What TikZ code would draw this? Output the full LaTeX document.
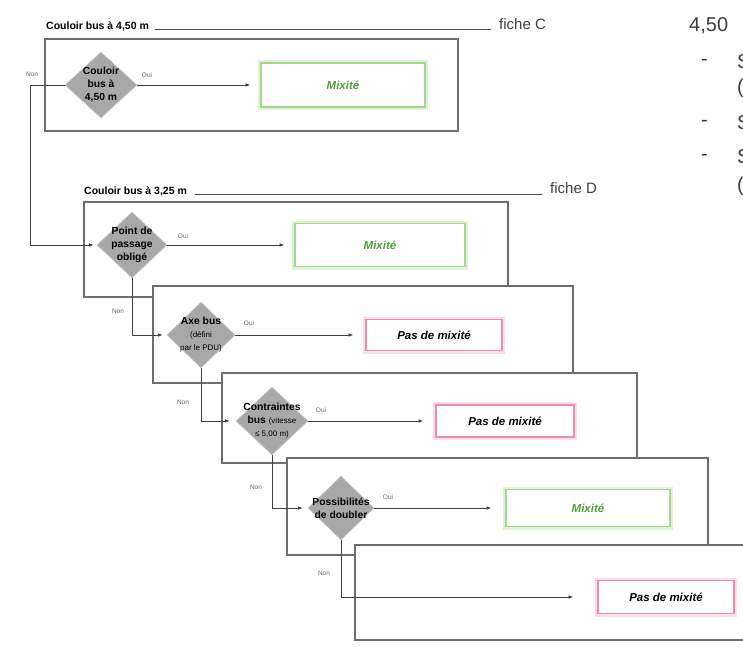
\documentclass[tikz,border=0pt]{standalone}
\usepackage{fontspec}
\setmainfont{Liberation Sans}
\usetikzlibrary{shapes.geometric,arrows.meta}
\definecolor{panelgray}{RGB}{110,110,110}
\definecolor{diagray}{RGB}{168,168,168}
\definecolor{mixline}{RGB}{165,215,145}
\definecolor{mixglow}{RGB}{222,242,212}
\definecolor{mixtext}{RGB}{80,160,60}
\definecolor{redline}{RGB}{240,140,165}
\definecolor{redglow}{RGB}{252,222,230}
\definecolor{sidetext}{RGB}{60,60,60}
\begin{document}
\begin{tikzpicture}[x=1pt,y=-1pt,
  panel/.style={draw=panelgray, line width=2.6pt, fill=white},
  dia/.style={diamond, fill=diagray, draw=black!22, line width=0.6pt, inner sep=0pt, aspect=1},
  dtext/.style={font=\fontsize{10.3}{13}\selectfont\bfseries, align=center, inner sep=0pt},
  mixbox/.style={rectangle, fill=white, draw=mixline, line width=1.6pt,
     preaction={draw=mixglow, line width=6pt},
     font=\fontsize{11.5}{13}\selectfont\bfseries\itshape, text=mixtext},
  redbox/.style={rectangle, fill=white, draw=redline, line width=1.8pt,
     preaction={draw=redglow, line width=6pt},
     font=\fontsize{11.5}{13}\selectfont\bfseries\itshape, text=black},
  arr/.style={-{Latex[length=4.5pt,width=3.6pt]}, line width=0.7pt, draw=black!75},
  lbl/.style={font=\fontsize{6.5}{7}\selectfont, text=black!60, inner sep=0pt},
  hdr/.style={font=\fontsize{10.5}{12}\selectfont\bfseries, inner sep=0pt},
  fiche/.style={font=\fontsize{15}{17}\selectfont, text=black!75, inner sep=0pt},
  hline/.style={line width=0.8pt, draw=black!70},
  side/.style={font=\fontsize{20}{22}\selectfont, text=sidetext, inner sep=0pt}
]
\useasboundingbox (0,0) rectangle (743,646);

% ---------- panels ----------
\draw[panel] (45,39) rectangle (458,131);
\draw[panel] (84,202) rectangle (508,297);
\draw[panel] (153,286) rectangle (573,383);
\draw[panel] (222,373) rectangle (637,463);
\draw[panel] (287,458) rectangle (708,555);
\draw[panel] (355,545) rectangle (770,640);

% ---------- headers ----------
\node[hdr, anchor=base west] (h1) at (46,29) {Couloir bus à 4,50 m};
\node[fiche, anchor=base west] (f1) at (499,29) {fiche C};
\draw[hline] ([xshift=6pt]h1.base east) -- ([xshift=-8pt]f1.base west);

\node[hdr, anchor=base west] (h2) at (84,194) {Couloir bus à 3,25 m};
\node[fiche, anchor=base west] (f2) at (550,193) {fiche D};
\draw[hline] ([xshift=8pt]h2.base east) -- ([xshift=-8pt]f2.base west |- h2.base east);

% ---------- right column (text cut by the page edge, as in the source) ----------
\node[side, anchor=base west] (s0) at (689,31) {4,50};
\node[side, anchor=west] (s1) at (701,62) {-};
\node[side, anchor=west] (s2) at (737,62) {S};
\node[side, anchor=west] (s3) at (737,88) {(};
\node[side, anchor=west] (s4) at (701,123) {-};
\node[side, anchor=west] (s5) at (737,123) {S};
\node[side, anchor=west] (s6) at (701,157) {-};
\node[side, anchor=west] (s7) at (737,157) {S};
\node[side, anchor=west] (s8) at (737,186) {(};

% ---------- diamonds ----------
\node[dia, minimum width=72pt, minimum height=66pt] (d1) at (101,85) {};
\node[dtext] (t1) at (d1) {Couloir\\bus à\\4,50 m};
\node[dia, minimum width=70pt, minimum height=66pt] (d2) at (132,245) {};
\node[dtext] (t2) at (d2) {Point de\\passage\\obligé};
\node[dia, minimum width=68pt, minimum height=66pt] (d3) at (201,335) {};
\node[dtext] (t3) at (d3) {Axe bus\\{\mdseries\fontsize{8}{10}\selectfont (défini}\\{\mdseries\fontsize{8}{10}\selectfont par le PDU)}};
\node[dia, minimum width=72pt, minimum height=68pt] (d4) at (272,421) {};
\node[dtext] (t4) at (d4) {Contraintes\\bus {\mdseries\fontsize{8}{10}\selectfont(vitesse}\\{\mdseries\fontsize{8}{10}\selectfont≤ 5,00 m)}};
\node[dia, minimum width=66pt, minimum height=64pt] (d5) at (341,508) {};
\node[dtext] (t5) at (d5) {Possibilités\\de doubler};

% ---------- result boxes ----------
\node[mixbox, minimum width=164pt, minimum height=44pt] (r1) at (343,85) {Mixité};
\node[mixbox, minimum width=170pt, minimum height=43pt] (r2) at (380,245) {Mixité};
\node[redbox, minimum width=136pt, minimum height=31pt] (r3) at (434,335) {Pas de mixité};
\node[redbox, minimum width=138pt, minimum height=32pt] (r4) at (505,421) {Pas de mixité};
\node[mixbox, minimum width=164pt, minimum height=37pt] (r5) at (588,508) {Mixité};
\node[redbox, minimum width=136pt, minimum height=33pt] (r6) at (666,597) {Pas de mixité};

% ---------- Oui connectors ----------
\draw[arr, shorten >=10pt] (d1.east) -- (r1.west);
\draw[arr, shorten >=10pt] (d2.east) -- (r2.west);
\draw[arr, shorten >=12pt] (d3.east) -- (r3.west);
\draw[arr, shorten >=12pt] (d4.east) -- (r4.west);
\draw[arr, shorten >=14pt] (d5.east) -- (r5.west);

\node[lbl] (o1) at (147,75) {Oui};
\node[lbl] (o2) at (183,236) {Oui};
\node[lbl] (o3) at (249,323) {Oui};
\node[lbl] (o4) at (321,410) {Oui};
\node[lbl] (o5) at (388,497) {Oui};

% ---------- Non connectors ----------
\coordinate (k1) at (30,85);
\draw[arr, shorten >=3pt] (d1.west) -- (k1) |- (d2.west);
\draw[arr, shorten >=4pt] (d2.south) |- (d3.west);
\draw[arr, shorten >=6pt] (d3.south) |- (d4.west);
\draw[arr, shorten >=5pt] (d4.south) |- (d5.west);
\draw[arr, shorten >=24pt] (d5.south) |- (r6.west);

\node[lbl] (n1) at (32,74) {Non};
\node[lbl] (n2) at (118,311) {Non};
\node[lbl] (n3) at (183,402) {Non};
\node[lbl] (n4) at (256,487) {Non};
\node[lbl] (n5) at (324,573) {Non};
\end{tikzpicture}
\end{document}
